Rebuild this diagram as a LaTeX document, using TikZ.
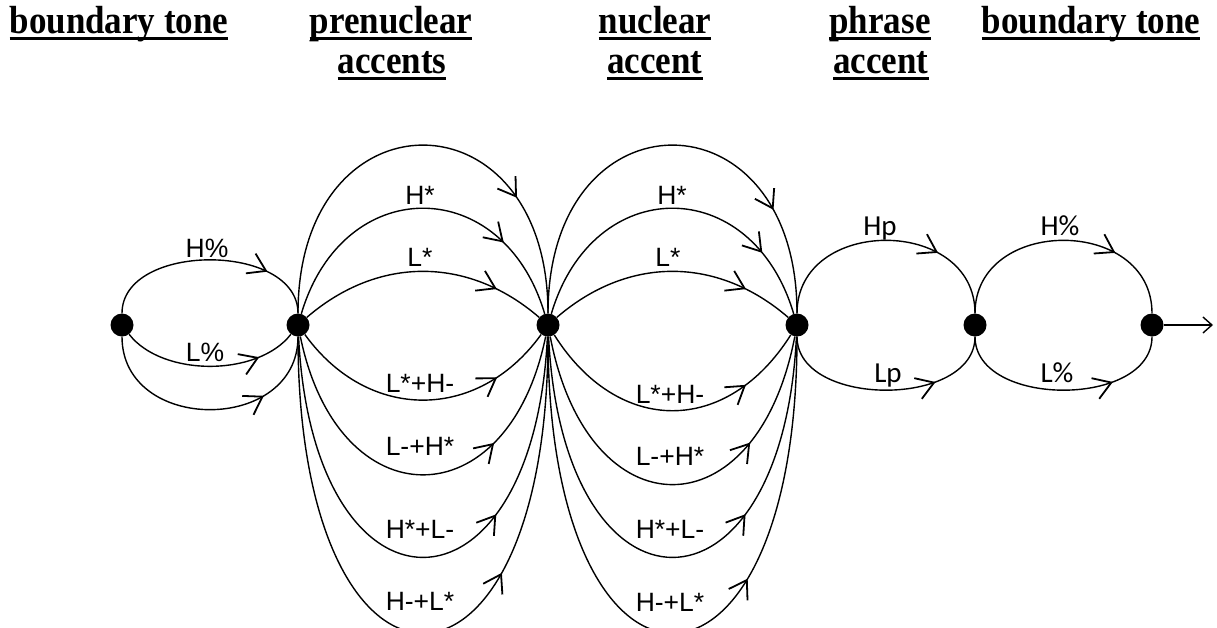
\documentclass[tikz,border=0pt]{standalone}
\usepackage{fontspec}
\usetikzlibrary{arrows.meta,decorations.markings}
\newfontfamily\hfont{Liberation Serif}
\newfontfamily\lfont{Liberation Sans}
\newfontfamily\cfont{Carlito}
\newcommand\myul[1]{\setbox0\hbox{\scalebox{1}[1.12]{#1}}\rlap{\rule[-7pt]{\wd0}{3.5pt}}\box0}
\begin{document}
\begin{tikzpicture}[x=1pt,y=-1pt,
  dot/.style={circle,fill=black,inner sep=0pt,minimum size=23pt},
  head/.style={anchor=base,inner sep=0pt,font=\hfont\bfseries\fontsize{35}{40}\selectfont},
  lab/.style={anchor=base,inner sep=0pt,font=\lfont\fontsize{26.5}{30}\selectfont},
  clab/.style={anchor=base,inner sep=0pt,font=\cfont\fontsize{29}{32}\selectfont},
  conn/.style={line width=1.4pt},
  mk/.style={postaction={decorate},decoration={markings,mark=at position #1 with {\arrow{Straight Barb[length=17pt,width=22pt,line width=1.8pt]}}}}
]
\useasboundingbox (0,0) rectangle (1217,627);
% headers
\node[head] (h1) at (119,33) {\myul{boundary tone}};
\node[head] (h2a) at (391,33) {\myul{prenuclear}};
\node[head] (h2b) at (392,73) {\myul{accents}};
\node[head] (h3a) at (655,33) {\myul{nuclear}};
\node[head] (h3b) at (655,73) {\myul{accent}};
\node[head] (h4a) at (880,33) {\myul{phrase}};
\node[head] (h4b) at (881,73) {\myul{accent}};
\node[head] (h5) at (1091,33) {\myul{boundary tone}};
% states
\node[dot] (n1) at (122,325) {};
\node[dot] (n2) at (298,325) {};
\node[dot] (n3) at (548,325) {};
\node[dot] (n4) at (797,325) {};
\node[dot] (n5) at (975,325) {};
\node[dot] (n6) at (1152,325) {};
\coordinate (end) at (1213,325);
% section 1
\draw[conn,mk=0.76] (n1) .. controls (122,242) and (298,242) .. (n2);
\draw[conn,mk=0.78] (n1) .. controls (162,377) and (258,377) .. (n2);
\draw[conn,mk=0.72] (n1) .. controls (122,434) and (298,434) .. (n2);
% section 2
\draw[conn,mk=0.74] (n2) .. controls (298,89) and (548,89) .. (n3);
\draw[conn,mk=0.76] (n2) .. controls (343,173) and (503,173) .. (n3);
\draw[conn,mk=0.80] (n2) .. controls (378,256) and (468,256) .. (n3);
\draw[conn,mk=0.78] (n2) .. controls (368,422) and (478,422) .. (n3);
\draw[conn,mk=0.70] (n2) .. controls (338,521) and (508,521) .. (n3);
\draw[conn,mk=0.66] (n2) .. controls (313,631) and (533,631) .. (n3);
\draw[conn,mk=0.65] (n2) .. controls (298,732) and (548,732) .. (n3);
% section 3
\draw[conn,mk=0.77] (n3) .. controls (548,89) and (797,89) .. (n4);
\draw[conn,mk=0.80] (n3) .. controls (593,173) and (752,173) .. (n4);
\draw[conn,mk=0.80] (n3) .. controls (628,256) and (717,256) .. (n4);
\draw[conn,mk=0.77] (n3) .. controls (618,436) and (727,436) .. (n4);
\draw[conn,mk=0.72] (n3) .. controls (588,534) and (757,534) .. (n4);
\draw[conn,mk=0.66] (n3) .. controls (563,631) and (782,631) .. (n4);
\draw[conn,mk=0.64] (n3) .. controls (548,732) and (797,732) .. (n4);
% section 4
\draw[conn,mk=0.71] (n4) .. controls (797,216) and (975,216) .. (n5);
\draw[conn,mk=0.72] (n4) .. controls (797,408) and (975,408) .. (n5);
% section 5
\draw[conn,mk=0.71] (n5) .. controls (975,216) and (1152,216) .. (n6);
\draw[conn,mk=0.72] (n5) .. controls (975,408) and (1152,408) .. (n6);
% exit
\draw[conn,-{Straight Barb[length=9pt,width=16pt]}] (n6) -- (end);
% labels
\node[lab] (l1a) at (207,257) {H\%};
\node[lab] (l1b) at (205,361) {L\%};
\node[lab] (l2a) at (420,204) {H*};
\node[lab] (l2b) at (420,266) {L*};
\node[lab] (l2c) at (420,392) {L*+H-};
\node[lab] (l2d) at (420,455) {L-+H*};
\node[lab] (l2e) at (420,538) {H*+L-};
\node[lab] (l2f) at (420,610) {H-+L*};
\node[lab] (l3a) at (672,204) {H*};
\node[lab] (l3b) at (668,266) {L*};
\node[lab] (l3c) at (670,403) {L*+H-};
\node[lab] (l3d) at (670,465) {L-+H*};
\node[lab] (l3e) at (670,538) {H*+L-};
\node[lab] (l3f) at (670,611) {H-+L*};
\node[clab] (l4a) at (880,235) {Hp};
\node[clab] (l4b) at (888,382) {Lp};
\node[clab] (l5a) at (1060,235) {H\%};
\node[clab] (l5b) at (1057,382) {L\%};
\end{tikzpicture}
\end{document}
